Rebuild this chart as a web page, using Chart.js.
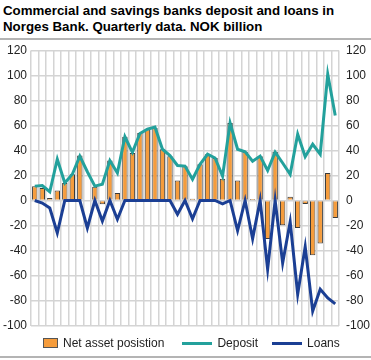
<!DOCTYPE html>
<html>
<head>
<meta charset="utf-8">
<script src="https://cdn.jsdelivr.net/npm/chart.js@4.4.1/dist/chart.umd.min.js"></script>
<style>
  body { margin: 0; width: 371px; height: 360px; position: relative; background: #fff; overflow: hidden;
         font-family: 'Liberation Sans', Arial, sans-serif; color: #222; }
  #title { position: absolute; left: 3px; top: 3px; font-weight: bold; font-size: 13.3px; line-height: 16px; color: #000; }
  .rule { position: absolute; left: 0; width: 371px; height: 2px; background: #b4b4b4; }
  #box { position: absolute; left: 0; top: 36px; width: 371px; height: 300px; }
  #legend { position: absolute; left: 43px; top: 335px; height: 16px; display: flex; align-items: center; font-size: 12px; color: #222; }
  #legend .sw { display: inline-block; width: 15px; height: 10px; background: #f59c3c; border: 1px solid #555; box-sizing: border-box; margin-right: 5px; }
  #legend .ln { display: inline-block; width: 30px; height: 3px; margin-right: 5px; }
</style>
</head>
<body>
<div id="title">Commercial and savings banks deposit and loans in<br>Norges Bank. Quarterly data. NOK billion</div>
<div class="rule" style="top:38px"></div>
<div id="box"><canvas id="myChart"></canvas></div>
<div id="legend">
  <span class="sw"></span><span style="margin-right:18px">Net asset posistion</span>
  <span class="ln" style="background:#23a19c"></span><span style="margin-right:14px">Deposit</span>
  <span class="ln" style="background:#1b3f94"></span><span>Loans</span>
</div>
<div class="rule" style="top:356px"></div>
<script>
let quarters = ['2000K1', '2000K2', '2000K3', '2000K4', '2001K1', '2001K2', '2001K3', '2001K4',
  '2002K1', '2002K2', '2002K3', '2002K4', '2003K1', '2003K2', '2003K3', '2003K4',
  '2004K1', '2004K2', '2004K3', '2004K4', '2005K1', '2005K2', '2005K3', '2005K4',
  '2006K1', '2006K2', '2006K3', '2006K4', '2007K1', '2007K2', '2007K3', '2007K4',
  '2008K1', '2008K2', '2008K3', '2008K4', '2009K1', '2009K2', '2009K3', '2009K4', '2010K1'];

let netAsset = [11.5, 10, 2, 8, 14, 21, 36, 0, 11, -3, 32, 6, 51, 38, 54, 57, 58, 41, 35.5, 16,
  27.5, 1.5, 29, 37, 34, 17.5, 62, 16, 39, 1.3, 35.5, -30.7, 39, -19.7, 3, -22, -2.7, -43.7, -34.4, 22, -13.9];
let deposit = [11.5, 12, 7, 33, 14, 21, 35.5, 23, 11.5, 13, 32, 22, 51, 38.5, 53.6, 57, 58.7, 41, 36, 28,
  27.5, 17, 29, 37, 34, 19.5, 62, 41, 39, 31.5, 35.5, 24, 38.7, 30, 21, 53, 35, 45, 37, 101, 68];
let loans = [0, -2, -6, -26, 0, 0, 0, -22, 0, -16.5, 0, -15, 0, 0, 0, 0, 0, 0, 0, -11,
  0, -14.7, 0, 0, 0, -2.7, 0, -24, 0, -30.5, 0, -55, 0, -50, -17, -75, -37, -88.5, -71, -78, -82.7];
let yTicks = [-100, 120, 20];

let gridColor = '#d4d4d4';
let tickFont = { family: "'Liberation Sans', Arial, sans-serif", size: 12 };

// fixed axis width, no extra room for the end labels
function fitY(width) {
  return (s) => { s.width = width; s.paddingTop = 0; s.paddingBottom = 0; };
}

let ctx = document.getElementById('myChart').getContext('2d');
let chart = new Chart(ctx, {
  type: 'bar',
  data: {
    labels: quarters,
    datasets: [
      { type: 'line', label: 'Loans', data: loans, borderColor: '#1b3f94', borderWidth: 3, pointRadius: 0, tension: 0, order: 1 },
      { type: 'line', label: 'Deposit', data: deposit, borderColor: '#23a19c', borderWidth: 3, pointRadius: 0, tension: 0, order: 2 },
      {
        label: 'Net asset posistion', data: netAsset,
        backgroundColor: '#f59c3c', borderColor: '#3a3a3a', borderWidth: 1,
        barPercentage: 0.72, categoryPercentage: 1, order: 3
      }
    ]
  },
  options: {
    responsive: true,
    maintainAspectRatio: false,
    animation: false,
    layout: { padding: { top: 14.5, bottom: 10.5, left: 0, right: 0 } },
    plugins: { legend: { display: false }, tooltip: { enabled: false } },
    scales: {
      x: {
        offset: true,
        grid: { color: gridColor, lineWidth: 1.5, drawTicks: false, offset: true },
        border: { display: false },
        ticks: { display: false },
        afterFit: (s) => { s.height = 0; s.paddingLeft = 0; s.paddingRight = 0; }
      },
      y: {
        position: 'left',
        min: yTicks[0], max: yTicks[1],
        grid: { color: gridColor, lineWidth: 1.5, drawTicks: false },
        border: { display: false },
        ticks: { stepSize: yTicks[2], padding: 4, color: '#222', font: tickFont },
        afterFit: fitY(31)
      },
      y2: {
        position: 'right',
        min: yTicks[0], max: yTicks[1],
        grid: { display: false, drawTicks: false },
        border: { display: false },
        ticks: { stepSize: yTicks[2], padding: 7, color: '#222', font: tickFont },
        afterFit: fitY(32)
      }
    }
  }
});
</script>
</body>
</html>
